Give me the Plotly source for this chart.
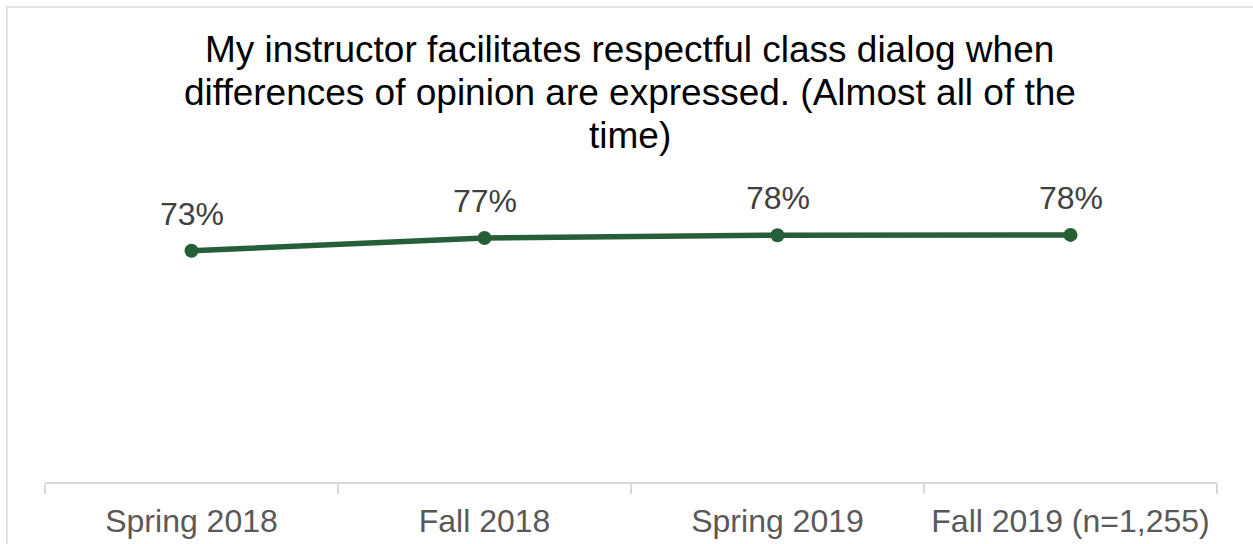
import plotly.graph_objects as go

categories = ["Spring 2018", "Fall 2018", "Spring 2019", "Fall 2019 (n=1,255)"]
values = [0.732, 0.772, 0.781, 0.782]
labels = ["73%", "77%", "78%", "78%"]
title_lines = [
    "My instructor facilitates respectful class dialog when",
    "differences of opinion are expressed. (Almost all of the",
    "time)",
]
title_line_y = [1.370, 1.233, 1.098]

LINE = "#265E3A"
FONT = "Liberation Sans, Arial, sans-serif"

fig = go.Figure()
fig.add_trace(go.Scatter(
    x=categories, y=values, mode="lines+markers",
    line=dict(color=LINE, width=5.5),
    marker=dict(color=LINE, size=14),
    hoverinfo="skip", showlegend=False,
))

for c, v, t in zip(categories, values, labels):
    fig.add_annotation(x=c, y=v, text=t, showarrow=False,
                       xanchor="center", yanchor="bottom", yshift=17,
                       font=dict(family=FONT, size=32, color="#404040"))

for line, ly in zip(title_lines, title_line_y):
    fig.add_annotation(xref="paper", yref="paper", x=0.499, y=ly,
                       xanchor="center", yanchor="middle",
                       text=line, showarrow=False,
                       font=dict(family=FONT, size=37, color="#000000"))

# outer chart border
fig.add_shape(type="rect", xref="paper", yref="paper",
              x0=-0.0325, x1=1.04, y0=-0.25, y1=1.503,
              line=dict(color="#D9D9D9", width=1.5), fillcolor="rgba(0,0,0,0)",
              layer="below")

fig.update_layout(
    width=1253, height=544,
    margin=dict(l=45, r=36, t=166, b=62, autoexpand=False),
    paper_bgcolor="white", plot_bgcolor="white",
    font=dict(family=FONT),
)
fig.update_xaxes(
    type="category", range=[-0.5, 3.5],
    showline=True, linecolor="#D9D9D9", linewidth=2,
    ticks="outside", tickson="boundaries", ticklen=10, tickcolor="#D9D9D9", tickwidth=2,
    tickfont=dict(family=FONT, size=32, color="#595959"),
    ticklabelstandoff=10,
    showgrid=False, zeroline=False, automargin=False,
)
fig.update_yaxes(range=[0, 1], visible=False, showgrid=False, zeroline=False)

fig.write_html("out.html",
               config={"displayModeBar": False},
               post_script="document.body.style.margin='0';document.body.style.overflow='hidden';")
